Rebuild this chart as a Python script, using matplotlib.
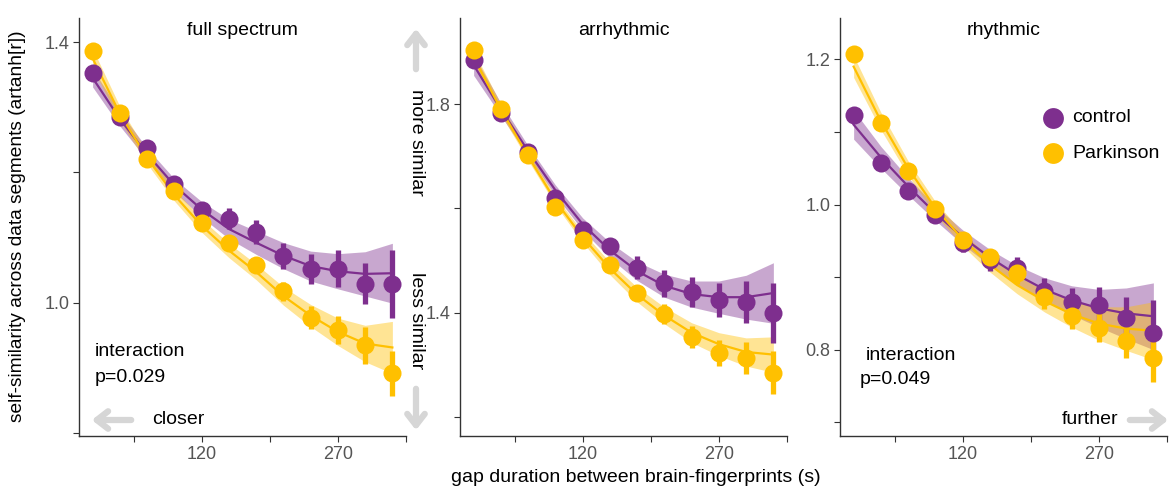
"""
Self-similarity vs gap duration: control vs Parkinson, three spectral panels
"""
import matplotlib
matplotlib.use('Agg')
import matplotlib.pyplot as plt
import numpy as np

plt.rcParams['font.family'] = ['Liberation Sans', 'DejaVu Sans']

# gap durations (s)
gap = [0, 30, 60, 90, 120, 150, 180, 210, 240, 270, 300, 330]

panel_titles = ['full spectrum', 'arrhythmic', 'rhythmic']
group_names = ['control', 'Parkinson']

# --- full spectrum ---
full_ctrl = [1.352, 1.285, 1.237, 1.182, 1.142, 1.129, 1.108, 1.071, 1.052, 1.052, 1.029, 1.029]
full_ctrl_err = [0.008, 0.008, 0.008, 0.009, 0.011, 0.016, 0.018, 0.020, 0.023, 0.028, 0.032, 0.052]
full_ctrl_fit = [1.345, 1.282, 1.228, 1.180, 1.143, 1.113, 1.092, 1.072, 1.056, 1.048, 1.044, 1.045]
full_ctrl_ci = [0.014, 0.011, 0.009, 0.010, 0.012, 0.015, 0.018, 0.020, 0.023, 0.027, 0.034, 0.046]

full_park = [1.386, 1.291, 1.221, 1.171, 1.122, 1.091, 1.057, 1.017, 0.977, 0.958, 0.934, 0.891]
full_park_err = [0.007, 0.007, 0.007, 0.008, 0.009, 0.010, 0.012, 0.015, 0.018, 0.021, 0.028, 0.035]
full_park_fit = [1.375, 1.290, 1.222, 1.165, 1.118, 1.080, 1.047, 1.010, 0.980, 0.955, 0.937, 0.931]
full_park_ci = [0.015, 0.011, 0.009, 0.009, 0.010, 0.011, 0.012, 0.014, 0.017, 0.021, 0.028, 0.040]

# --- arrhythmic ---
arr_ctrl = [1.884, 1.783, 1.708, 1.620, 1.559, 1.528, 1.486, 1.457, 1.440, 1.425, 1.421, 1.400]
arr_ctrl_err = [0.010, 0.010, 0.010, 0.011, 0.012, 0.015, 0.022, 0.026, 0.029, 0.033, 0.040, 0.058]
arr_ctrl_fit = [1.875, 1.790, 1.710, 1.635, 1.570, 1.520, 1.480, 1.452, 1.436, 1.430, 1.430, 1.438]
arr_ctrl_ci = [0.020, 0.012, 0.010, 0.010, 0.012, 0.015, 0.018, 0.022, 0.025, 0.031, 0.042, 0.058]

arr_park = [1.903, 1.790, 1.702, 1.603, 1.540, 1.492, 1.438, 1.398, 1.354, 1.323, 1.314, 1.285]
arr_park_err = [0.008, 0.008, 0.008, 0.009, 0.010, 0.012, 0.015, 0.019, 0.021, 0.025, 0.031, 0.041]
arr_park_fit = [1.890, 1.790, 1.700, 1.615, 1.545, 1.485, 1.435, 1.395, 1.362, 1.340, 1.325, 1.320]
arr_park_ci = [0.012, 0.010, 0.008, 0.008, 0.010, 0.012, 0.014, 0.016, 0.019, 0.022, 0.027, 0.034]

# --- rhythmic ---
rhy_ctrl = [1.123, 1.057, 1.019, 0.985, 0.947, 0.923, 0.912, 0.881, 0.865, 0.861, 0.843, 0.823]
rhy_ctrl_err = [0.010, 0.010, 0.010, 0.011, 0.012, 0.014, 0.016, 0.018, 0.020, 0.025, 0.029, 0.045]
rhy_ctrl_fit = [1.110, 1.065, 1.025, 0.988, 0.955, 0.927, 0.903, 0.883, 0.868, 0.857, 0.850, 0.846]
rhy_ctrl_ci = [0.020, 0.015, 0.012, 0.010, 0.010, 0.011, 0.013, 0.016, 0.020, 0.026, 0.035, 0.046]

rhy_park = [1.208, 1.112, 1.046, 0.994, 0.951, 0.927, 0.905, 0.872, 0.847, 0.830, 0.812, 0.788]
rhy_park_err = [0.008, 0.008, 0.008, 0.009, 0.010, 0.012, 0.014, 0.016, 0.018, 0.020, 0.024, 0.032]
rhy_park_fit = [1.190, 1.115, 1.050, 0.995, 0.952, 0.917, 0.889, 0.867, 0.849, 0.836, 0.829, 0.826]
rhy_park_ci = [0.015, 0.012, 0.010, 0.009, 0.009, 0.010, 0.012, 0.015, 0.018, 0.023, 0.030, 0.040]

# y-axis ticks per panel (all ticks / which get a label)
yticks_all = [[0.8, 1.0, 1.2, 1.4], [1.2, 1.4, 1.6, 1.8], [0.7, 0.8, 0.9, 1.0, 1.1, 1.2]]
ylabels_shown = [['', '1.0', '', '1.4'], ['', '1.4', '', '1.8'], ['', '0.8', '', '1.0', '', '1.2']]
ylims = [(0.795, 1.437), (1.164, 1.965), (0.681, 1.257)]
xticks_all = [45, 120, 195, 270, 345]
xlabels_shown = ['', '120', '', '270', '']

PURPLE = '#7E2F8E'
YELLOW = '#FFC000'
ARROW_GREY = '#D6D6D6'
FS = 14

panels = [
    [(full_ctrl, full_ctrl_err, full_ctrl_fit, full_ctrl_ci),
     (full_park, full_park_err, full_park_fit, full_park_ci)],
    [(arr_ctrl, arr_ctrl_err, arr_ctrl_fit, arr_ctrl_ci),
     (arr_park, arr_park_err, arr_park_fit, arr_park_ci)],
    [(rhy_ctrl, rhy_ctrl_err, rhy_ctrl_fit, rhy_ctrl_ci),
     (rhy_park, rhy_park_err, rhy_park_fit, rhy_park_ci)],
]

W, H = 1172, 492
fig = plt.figure(figsize=(W / 100, H / 100), dpi=100)

lefts_px = [79, 460, 840]
ax_w_px = 327
top_px, bot_px = 18, 436

axes = []
for i in range(3):
    ax = fig.add_axes([lefts_px[i] / W, 1 - bot_px / H, ax_w_px / W, (bot_px - top_px) / H])
    axes.append(ax)

    for (vals, err, fit, ci), col in zip(panels[i], [PURPLE, YELLOW]):
        fit = np.array(fit)
        ci = np.array(ci)
        ax.fill_between(gap, fit - ci, fit + ci, color=col, alpha=0.42, lw=0)
        ax.plot(gap, fit, color=col, lw=1.6)
        ax.errorbar(gap, vals, yerr=err, fmt='o', color=col, ms=13, elinewidth=3.8,
                    capsize=0, mec='none')

    ax.set_xlim(-15, 345)
    ax.set_ylim(*ylims[i])
    ax.set_xticks(xticks_all)
    ax.set_xticklabels(xlabels_shown)
    ax.set_yticks(yticks_all[i])
    ax.set_yticklabels(ylabels_shown[i])
    for s in ['top', 'right']:
        ax.spines[s].set_visible(False)
    for s in ['left', 'bottom']:
        ax.spines[s].set_color('#333333')
        ax.spines[s].set_linewidth(1.0)
    ax.tick_params(axis='both', length=4, width=0.8, color='#333333',
                   labelcolor='#555555', labelsize=13, pad=3)
    ax.text(0.5, 0.99, panel_titles[i], transform=ax.transAxes, ha='center', va='top',
            fontsize=FS)

# interaction annotations
fig.text(95 / W, 1 - 352 / H, 'interaction', ha='left', va='center', fontsize=FS)
fig.text(95 / W, 1 - 377 / H, 'p=0.029', ha='left', va='center', fontsize=FS)
fig.text(866 / W, 1 - 356 / H, 'interaction', ha='left', va='center', fontsize=FS)
fig.text(860 / W, 1 - 380 / H, 'p=0.049', ha='left', va='center', fontsize=FS)

# legend in the rhythmic panel
for j, (name, col) in enumerate(zip(group_names, [PURPLE, YELLOW])):
    yy = 1 - (118 + 35 * j) / H
    fig.lines.append(plt.Line2D([1053 / W], [yy], marker='o', ms=15, color=col, mec='none',
                                transform=fig.transFigure))
    fig.text(1072 / W, yy, name, ha='left', va='center', fontsize=FS)

# direction arrows and labels
def grey_arrow(x0, y0, x1, y1):
    fig.add_artist(matplotlib.patches.FancyArrowPatch(
        (x0 / W, 1 - y0 / H), (x1 / W, 1 - y1 / H), transform=fig.transFigure,
        arrowstyle='->,head_length=0.45,head_width=0.35', mutation_scale=18,
        lw=4.5, color=ARROW_GREY))

grey_arrow(416, 72, 416, 26)
fig.text(417 / W, 1 - 142 / H, 'more similar', rotation=-90, ha='center', va='center',
         fontsize=FS)
fig.text(417 / W, 1 - 321 / H, 'less similar', rotation=-90, ha='center', va='center',
         fontsize=FS)
grey_arrow(416, 386, 416, 433)

grey_arrow(134, 420, 89, 420)
fig.text(152 / W, 1 - 420 / H, 'closer', ha='left', va='center', fontsize=FS)

fig.text(1118 / W, 1 - 420 / H, 'further', ha='right', va='center', fontsize=FS)
grey_arrow(1127, 420, 1171, 420)

fig.text(18 / W, 1 - 226 / H, 'self-similarity across data segments (artanh[r])',
         rotation=90, ha='center', va='center', fontsize=13.8)
fig.text(636 / W, 1 - 477 / H, 'gap duration between brain-fingerprints (s)',
         ha='center', va='center', fontsize=FS)

fig.savefig('out.png', dpi=100)
